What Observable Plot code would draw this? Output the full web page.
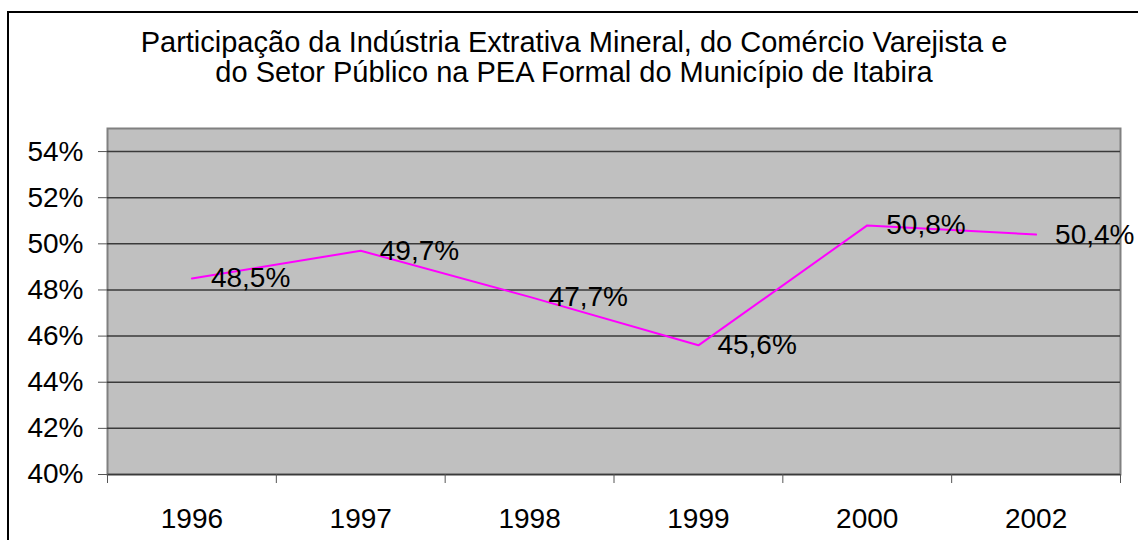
<!DOCTYPE html>
<html>
<head>
<meta charset="utf-8">
<script src="https://cdn.jsdelivr.net/npm/d3@7"></script>
<script src="https://cdn.jsdelivr.net/npm/@observablehq/plot@0.6"></script>
<style>
  html, body { margin: 0; padding: 0; background: #fff; overflow: hidden; }
  #wrap { position: relative; width: 1138px; height: 540px; overflow: hidden; font-family: "Liberation Sans", Arial, sans-serif; }
  #border { position: absolute; left: 7px; top: 11px; width: 1200px; height: 600px; border: 2px solid #000; box-sizing: border-box; }
  .title { position: absolute; left: 0; width: 1148px; text-align: center; font-size: 29px; line-height: 30px; color: #000; white-space: nowrap; }
  #chart { position: absolute; left: 0; top: 0; }
</style>
</head>
<body>
<div id="wrap">
  <div id="border"></div>
  <div class="title" style="top:27px">Participação da Indústria Extrativa Mineral, do Comércio Varejista e</div>
  <div class="title" style="top:57px">do Setor Público na PEA Formal do Município de Itabira</div>
  <div id="chart"></div>
</div>
<script>
const years = ["1996", "1997", "1998", "1999", "2000", "2002"];
const values = [48.5, 49.7, 47.7, 45.6, 50.8, 50.4];
const yTicks = [40, 42, 44, 46, 48, 50, 52, 54];

const data = years.map((y, i) => ({year: y, idx: i + 0.5, value: values[i]}));
const fmtPct = v => v.toFixed(1).replace(".", ",") + "%";

const chart = Plot.plot({
  width: 1138,
  height: 540,
  marginLeft: 107,
  marginRight: 18,
  marginTop: 128,
  marginBottom: 66,
  style: {background: "transparent", fontFamily: "'Liberation Sans', Arial, sans-serif", color: "#000"},
  x: {type: "linear", domain: [0, years.length], label: null},
  y: {domain: [40, 55], label: null},
  marks: [
    Plot.frame({fill: "#c0c0c0", stroke: "#808080", strokeWidth: 2}),
    Plot.gridY(yTicks.filter(t => t > 40), {stroke: "#3a3a3a", strokeOpacity: 1, strokeWidth: 1.5}),
    Plot.ruleY([40], {stroke: "#3a3a3a", strokeWidth: 1.5}),
    Plot.axisY({ticks: yTicks, tickSize: 9, tickPadding: 15, tickFormat: d => d + "%", fontSize: 28, stroke: "#555", label: null}),
    Plot.axisX({ticks: d3.range(years.length + 1), tickSize: 9, tickFormat: () => "", stroke: "#555", label: null}),
    Plot.axisX({ticks: data.map(d => d.idx), tickSize: 0, tickPadding: 34, tickFormat: (d, i) => years[i], fontSize: 28, label: null}),
    Plot.line(data, {x: "idx", y: "value", stroke: "#ff00ff", strokeWidth: 2}),
    Plot.text(data, {x: "idx", y: "value", text: d => fmtPct(d.value), dx: 19, textAnchor: "start", lineAnchor: "middle", fontSize: 28, fill: "#000"})
  ]
});
document.getElementById("chart").appendChild(chart);
</script>
</body>
</html>
